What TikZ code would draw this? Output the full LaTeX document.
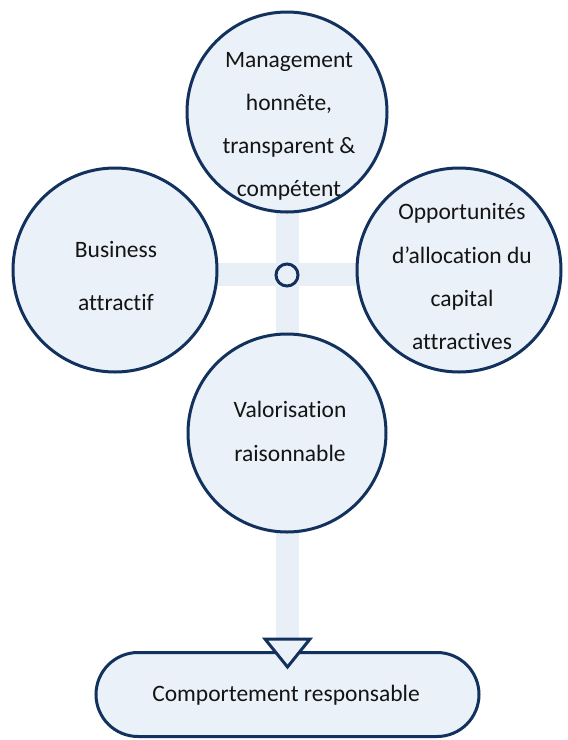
\documentclass[tikz,border=0pt]{standalone}
\usepackage{fontspec}
\setmainfont{Carlito}[Ligatures=NoCommon]
\definecolor{navy}{HTML}{12315C}
\definecolor{pale}{HTML}{EAF1F9}
\definecolor{bandcol}{HTML}{E8EFF7}
\begin{document}
\begin{tikzpicture}[x=1pt,y=-1pt,
  bubble/.style={circle, draw=navy, fill=pale, line width=3pt, inner sep=0pt},
  lbl/.style={font=\fontsize{23.5}{28}\selectfont, text=black!92, inner sep=0pt, anchor=base},
  band/.style={fill=bandcol}]
\useasboundingbox (0,0) rectangle (568,740);
% bands
\fill[band] (115,263) rectangle (459,286);
\fill[band] (276,112) rectangle (299,645);
% circles
\node[bubble, minimum size=200pt] (top) at (287,112) {};
\node[bubble, minimum size=204pt] (left) at (115,270) {};
\node[bubble, minimum size=204pt] (right) at (459,270) {};
\node[bubble, minimum size=198pt] (bot) at (287,433) {};
\node[circle, draw=navy, line width=3pt, minimum size=22pt, inner sep=0pt] (hub) at (287,275) {};
% bottom rounded box
\node[draw=navy, fill=pale, line width=3pt, rounded corners=42pt, minimum width=383pt, minimum height=84pt, inner sep=0pt] (res) at (287.5,694.5) {};
% triangle
\coordinate (ta) at (265,639);
\coordinate (tb) at (310,639);
\coordinate (tc) at (287.5,667);
\draw[navy, fill=pale, line width=3pt, line join=miter] (ta) -- (tb) -- (tc) -- cycle;
% texts
\node[lbl] (t1) at (289,67) {Management};
\node[lbl] (t2) at (289,110) {honnête,};
\node[lbl] (t3) at (289,153) {transparent \&};
\node[lbl] (t4) at (289,196) {compétent};
\node[lbl] (l1) at (116,257) {Business};
\node[lbl] (l2) at (116,310) {attractif};
\node[lbl] (r1) at (462,219) {Opportunités};
\node[lbl] (r2) at (462,263) {d’allocation du};
\node[lbl] (r3) at (462,306) {capital};
\node[lbl] (r4) at (462,349) {attractives};
\node[lbl] (b1) at (290,417) {Valorisation};
\node[lbl] (b2) at (290,461) {raisonnable};
\node[lbl] (rt) at (286,701) {Comportement responsable};
\end{tikzpicture}
\end{document}
